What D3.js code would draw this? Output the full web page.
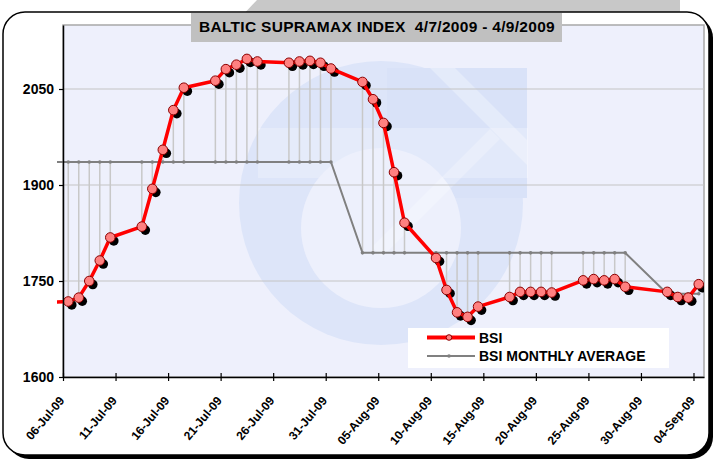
<!DOCTYPE html>
<html>
<head>
<meta charset="utf-8">
<script src="https://cdn.jsdelivr.net/npm/d3@7"></script>
<style>
  body { margin: 0; background: #fff; }
  svg { display: block; }
  text { font-family: "Liberation Sans", Arial, sans-serif; font-weight: bold; fill: #000; }
</style>
</head>
<body>
<svg id="chart" width="714" height="459"></svg>
<script>
// data
const dates = ["2009-07-03",
  "2009-07-06","2009-07-07","2009-07-08","2009-07-09","2009-07-10",
  "2009-07-13","2009-07-14","2009-07-15","2009-07-16","2009-07-17",
  "2009-07-20","2009-07-21","2009-07-22","2009-07-23","2009-07-24",
  "2009-07-27","2009-07-28","2009-07-29","2009-07-30","2009-07-31",
  "2009-08-03","2009-08-04","2009-08-05","2009-08-06","2009-08-07",
  "2009-08-10","2009-08-11","2009-08-12","2009-08-13","2009-08-14",
  "2009-08-17","2009-08-18","2009-08-19","2009-08-20","2009-08-21",
  "2009-08-24","2009-08-25","2009-08-26","2009-08-27","2009-08-28",
  "2009-09-01","2009-09-02","2009-09-03","2009-09-04"];
const bsi = [1716,
  1718, 1724, 1750, 1782, 1818,
  1835, 1894, 1955, 2017, 2052,
  2063, 2081, 2088, 2097, 2093,
  2091, 2093, 2094, 2091, 2082,
  2061, 2034, 1997, 1920, 1841,
  1786, 1736, 1701, 1694, 1710,
  1725, 1733, 1733, 1733, 1732,
  1751, 1753, 1751, 1753, 1741,
  1733, 1725, 1724, 1745];
const months = ["2009-07", "2009-08", "2009-09"];
const monthlyAvg = [1936, 1794, 1730];

const yTicks = [1600, 1750, 1900, 2050];
const xTickDates = ["2009-07-06","2009-07-11","2009-07-16","2009-07-21","2009-07-26","2009-07-31",
  "2009-08-05","2009-08-10","2009-08-15","2009-08-20","2009-08-25","2009-08-30","2009-09-04"];
const xTickLabels = ["06-Jul-09","11-Jul-09","16-Jul-09","21-Jul-09","26-Jul-09","31-Jul-09",
  "05-Aug-09","10-Aug-09","15-Aug-09","20-Aug-09","25-Aug-09","30-Aug-09","04-Sep-09"];
const seriesNames = ["BSI", "BSI MONTHLY AVERAGE"];
const title = "BALTIC SUPRAMAX INDEX  4/7/2009 - 4/9/2009";

const svg = d3.select("#chart");
const plot = {left: 63, right: 704, top: 25, bottom: 377};
const parse = d3.utcParse("%Y-%m-%d");

const x = d3.scaleUtc()
  .domain([parse("2009-07-06"), parse("2009-09-05")])
  .range([plot.left, plot.right]);
const y = d3.scaleLinear()
  .domain([1600, 2150])
  .range([plot.bottom, plot.top]);

// points sit in the middle of their day
const mid = d => d3.utcHour.offset(parse(d), 12);
const rows = dates.map((d, i) => ({
  date: mid(d),
  v: bsi[i],
  avg: monthlyAvg[months.indexOf(d.slice(0, 7))]
}));

// grey shape peeking above the frame
svg.append("path")
  .attr("d", "M238,20 L257,0 L680,0 L680,20 Z")
  .attr("fill", "#c8c8c8");

// chart frame with shadow
svg.append("rect")
  .attr("x", 7).attr("y", 16).attr("width", 706).attr("height", 443)
  .attr("rx", 22).attr("fill", "#000");
svg.append("rect")
  .attr("x", 3).attr("y", 12).attr("width", 706).attr("height", 443)
  .attr("rx", 22).attr("fill", "#fff").attr("stroke", "#000").attr("stroke-width", 1.5);

// plot area
svg.append("rect")
  .attr("x", plot.left).attr("y", plot.top)
  .attr("width", plot.right - plot.left).attr("height", plot.bottom - plot.top)
  .attr("fill", "#eef0fc").attr("stroke", "#a8a8a8").attr("stroke-width", 1.5);

svg.append("defs").append("clipPath").attr("id", "plotClip")
  .append("rect").attr("x", plot.left).attr("y", plot.top)
  .attr("width", plot.right - plot.left).attr("height", plot.bottom - plot.top);
svg.select("defs").append("clipPath").attr("id", "dataClip")
  .append("rect").attr("x", 57).attr("y", 0)
  .attr("width", plot.right - 57).attr("height", plot.bottom);

// faint logo watermark
const wm = svg.append("g").attr("clip-path", "url(#plotClip)");
wm.append("circle").attr("cx", 381).attr("cy", 203).attr("r", 142).attr("fill", "#dde5f9");
wm.append("rect").attr("x", 387).attr("y", 68).attr("width", 140).attr("height", 130).attr("fill", "#d9e2f8");
wm.append("rect").attr("x", 258).attr("y", 128).attr("width", 270).attr("height", 50).attr("fill", "#fff").attr("opacity", 0.25);
wm.append("circle").attr("cx", 381).attr("cy", 228).attr("r", 80).attr("fill", "#edf0fc");
wm.append("path").attr("d", "M430,68 L455,68 L527,140 L527,165 Z").attr("fill", "#fff").attr("opacity", 0.3);
wm.append("path").attr("d", "M372,247 L490,129 L500,139 L382,257 Z").attr("fill", "#fff").attr("opacity", 0.25);

// gridlines
svg.append("g")
  .selectAll("line")
  .data(yTicks.slice(1))
  .join("line")
    .attr("x1", plot.left).attr("x2", plot.right)
    .attr("y1", d => y(d)).attr("y2", d => y(d))
    .attr("stroke", "#c4c4c4").attr("stroke-width", 1);

// title box
svg.append("rect")
  .attr("x", 191).attr("y", 13).attr("width", 371).attr("height", 29)
  .attr("fill", "#c0c0c0");
svg.append("text")
  .attr("x", 377).attr("y", 32)
  .attr("text-anchor", "middle")
  .attr("font-size", "15.5px")
  .attr("letter-spacing", "0.3px")
  .style("white-space", "pre")
  .text(title);

const data = svg.append("g").attr("clip-path", "url(#dataClip)");

// high-low lines between the two series
data.append("g")
  .selectAll("line")
  .data(rows)
  .join("line")
    .attr("x1", d => x(d.date)).attr("x2", d => x(d.date))
    .attr("y1", d => y(d.v)).attr("y2", d => y(d.avg))
    .attr("stroke", "#c8c8c8").attr("stroke-width", 1.5);

// monthly average
data.append("path")
  .datum(rows)
  .attr("fill", "none")
  .attr("stroke", "#808080")
  .attr("stroke-width", 2)
  .attr("d", d3.line().x(d => x(d.date)).y(d => y(d.avg)));
data.append("g")
  .selectAll("circle")
  .data(rows)
  .join("circle")
    .attr("cx", d => x(d.date)).attr("cy", d => y(d.avg))
    .attr("r", 1.8).attr("fill", "#808080");

// BSI marker shadows
data.append("g")
  .selectAll("circle")
  .data(rows)
  .join("circle")
    .attr("cx", d => x(d.date) + 3.5).attr("cy", d => y(d.v) + 3.5)
    .attr("r", 4.8).attr("fill", "#000");

// BSI line
data.append("path")
  .datum(rows)
  .attr("fill", "none")
  .attr("stroke", "#ff0000")
  .attr("stroke-width", 3.5)
  .attr("stroke-linejoin", "round")
  .attr("d", d3.line().x(d => x(d.date)).y(d => y(d.v)));

data.append("g")
  .selectAll("circle")
  .data(rows)
  .join("circle")
    .attr("cx", d => x(d.date)).attr("cy", d => y(d.v))
    .attr("r", 4.8)
    .attr("fill", "#ff8080")
    .attr("stroke", "#8b0000").attr("stroke-width", 1);

// Y axis
const yAxis = svg.append("g")
  .attr("transform", `translate(${plot.left},0)`)
  .call(d3.axisLeft(y).tickValues(yTicks).tickFormat(d3.format("d"))
    .tickSize(4).tickSizeOuter(0).tickPadding(5));
yAxis.select(".domain").attr("stroke", "#000").attr("stroke-width", 1.5);
yAxis.selectAll(".tick line").attr("stroke", "#000").attr("stroke-width", 1.2);
yAxis.selectAll(".tick text")
  .attr("font-size", "14px")
  .attr("font-family", "'Liberation Sans', Arial, sans-serif")
  .attr("font-weight", "bold")
  .attr("fill", "#000");

// X axis with cross ticks
const xAxis = svg.append("g")
  .attr("transform", `translate(0,${plot.bottom})`)
  .call(d3.axisBottom(x).tickValues(xTickDates.map(parse)).tickSize(4).tickSizeOuter(0).tickFormat(""));
xAxis.select(".domain").attr("stroke", "#000").attr("stroke-width", 1.5);
xAxis.selectAll(".tick line").attr("y1", -4).attr("stroke", "#000").attr("stroke-width", 1.2);

svg.append("g")
  .selectAll("text")
  .data(xTickDates)
  .join("text")
    .attr("transform", d => `translate(${x(parse(d)) + 2},${plot.bottom + 24}) rotate(-50)`)
    .attr("text-anchor", "end")
    .attr("font-size", "12px")
    .text((d, i) => xTickLabels[i]);

// legend
const lg = svg.append("g");
lg.append("rect")
  .attr("x", 408).attr("y", 328).attr("width", 261).attr("height", 40)
  .attr("fill", "#fff");
lg.append("line")
  .attr("x1", 427).attr("x2", 475).attr("y1", 337.5).attr("y2", 337.5)
  .attr("stroke", "#ff0000").attr("stroke-width", 4);
lg.append("circle")
  .attr("cx", 449).attr("cy", 337.5).attr("r", 2.8)
  .attr("fill", "#ff8080").attr("stroke", "#8b0000").attr("stroke-width", 1);
lg.append("line")
  .attr("x1", 427).attr("x2", 475).attr("y1", 356).attr("y2", 356)
  .attr("stroke", "#808080").attr("stroke-width", 2);
lg.append("circle")
  .attr("cx", 449).attr("cy", 356).attr("r", 1.8).attr("fill", "#808080");
lg.selectAll("text")
  .data(seriesNames)
  .join("text")
    .attr("x", 479)
    .attr("y", (d, i) => 342.5 + i * 18.5)
    .attr("font-size", "14px")
    .text(d => d);
</script>
</body>
</html>
